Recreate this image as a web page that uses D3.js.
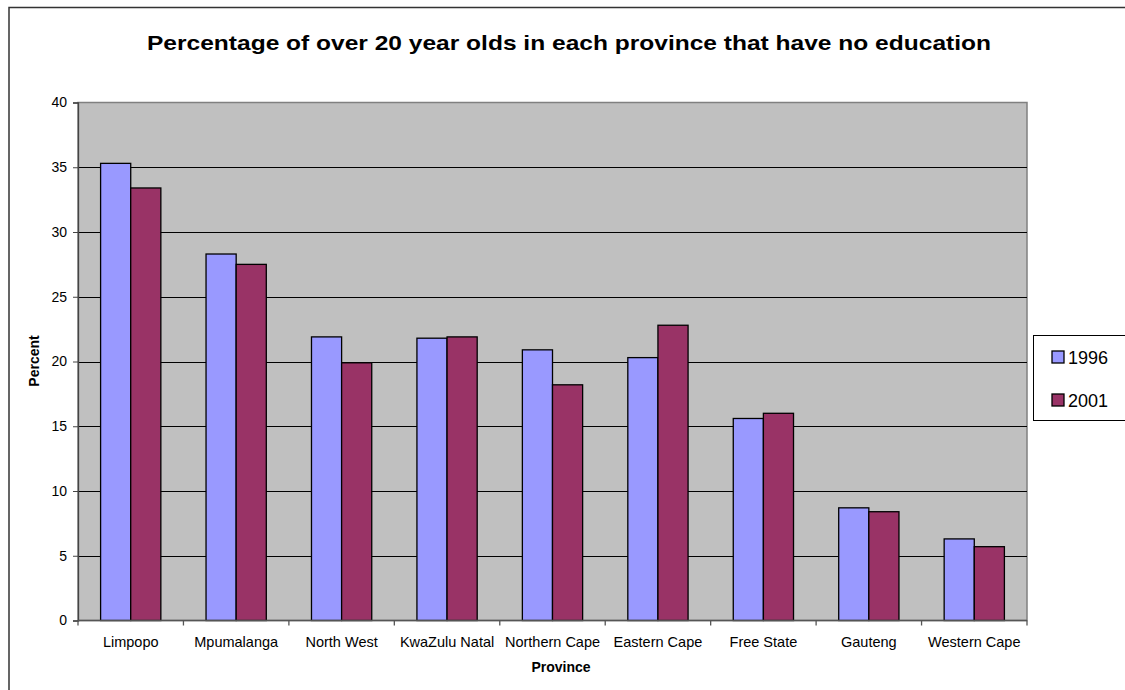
<!DOCTYPE html>
<html>
<head>
<meta charset="utf-8">
<script src="https://cdn.jsdelivr.net/npm/d3@7"></script>
<style>
  html, body { margin: 0; padding: 0; background: #fff; }
  svg { display: block; font-family: Arial, "Liberation Sans", sans-serif; }
</style>
</head>
<body>
<svg id="chart" width="1125" height="690"></svg>
<script>
// Provinces, ordered as shown on the category axis
const provinces = ["Limpopo", "Mpumalanga", "North West", "KwaZulu Natal", "Northern Cape",
                   "Eastern Cape", "Free State", "Gauteng", "Western Cape"];
// Share of over-20s with no schooling, by census year (%)
const years = ["1996", "2001"];
const values1996 = [35.3, 28.3, 21.9, 21.8, 20.9, 20.3, 15.6, 8.7, 6.3];
const values2001 = [33.4, 27.5, 19.9, 21.9, 18.2, 22.8, 16.0, 8.4, 5.7];
const yTicks = [0, 5, 10, 15, 20, 25, 30, 35, 40];

const colors = { "1996": "#9999FF", "2001": "#993366" };

const svg = d3.select("#chart");
const plot = { left: 78, right: 1027, top: 102.5, bottom: 620.5 };

// Outer chart frame
svg.append("rect")
  .attr("x", 9).attr("y", 7.5)
  .attr("width", 1130).attr("height", 700)
  .attr("fill", "#fff").attr("stroke", "#333").attr("stroke-width", 1.5);

// Title
svg.append("text")
  .attr("x", 569).attr("y", 50)
  .attr("text-anchor", "middle")
  .attr("font-size", 21).attr("font-weight", "bold")
  .attr("textLength", 844).attr("lengthAdjust", "spacingAndGlyphs")
  .text("Percentage of over 20 year olds in each province that have no education");

const x = d3.scaleBand().domain(provinces).range([plot.left, plot.right]);
const y = d3.scaleLinear().domain([0, 40]).range([plot.bottom, plot.top]);
// Two bars per category with a 150% gap: band = 3.5 bar widths
const barW = x.bandwidth() / 3.5;
const xs = d3.scaleBand().domain(years).range([0, 2 * barW]);

// Plot area background
svg.append("rect")
  .attr("x", plot.left).attr("y", plot.top)
  .attr("width", plot.right - plot.left).attr("height", plot.bottom - plot.top)
  .attr("fill", "#C0C0C0").attr("stroke", "#808080").attr("stroke-width", 1.5);

// Horizontal gridlines
svg.append("g")
  .selectAll("line")
  .data(yTicks.filter(d => d > 0 && d < 40))
  .join("line")
  .attr("x1", plot.left).attr("x2", plot.right)
  .attr("y1", d => Math.round(y(d)) + 0.5).attr("y2", d => Math.round(y(d)) + 0.5)
  .attr("stroke", "#000").attr("stroke-width", 1.2);

// Bars
const series = years.map(yr => ({ year: yr, vals: yr === "1996" ? values1996 : values2001 }));
const groups = svg.append("g")
  .selectAll("g")
  .data(provinces)
  .join("g")
  .attr("transform", d => `translate(${x(d) + (x.bandwidth() - 2 * barW) / 2},0)`);

groups.selectAll("rect")
  .data((d, i) => series.map(s => ({ year: s.year, value: s.vals[i] })))
  .join("rect")
  .attr("x", d => xs(d.year))
  .attr("y", d => y(d.value))
  .attr("width", xs.bandwidth())
  .attr("height", d => y(0) - y(d.value))
  .attr("fill", d => colors[d.year])
  .attr("stroke", "#000").attr("stroke-width", 1.3);

// Y axis
const yAxis = d3.axisLeft(y).tickValues(yTicks).tickSize(5).tickPadding(6).tickFormat(d3.format("d"));
const gy = svg.append("g").attr("transform", `translate(${plot.left},0)`).call(yAxis);
gy.select(".domain").attr("stroke", "#444").attr("stroke-width", 1.3);
gy.selectAll(".tick line").attr("stroke", "#444");
gy.selectAll(".tick text").attr("font-size", 14).attr("fill", "#000")
  .attr("font-family", "Arial, 'Liberation Sans', sans-serif");

// X axis: ticks sit on category boundaries
const gx = svg.append("g").attr("transform", `translate(0,${plot.bottom})`);
gx.append("line")
  .attr("x1", plot.left).attr("x2", plot.right)
  .attr("stroke", "#555").attr("stroke-width", 1.3);
gx.selectAll("line.tk")
  .data(d3.range(provinces.length + 1))
  .join("line").attr("class", "tk")
  .attr("x1", i => plot.left + i * x.step()).attr("x2", i => plot.left + i * x.step())
  .attr("y1", 0).attr("y2", 5)
  .attr("stroke", "#555").attr("stroke-width", 1.3);
gx.selectAll("text")
  .data(provinces)
  .join("text")
  .attr("x", d => x(d) + x.bandwidth() / 2)
  .attr("y", 26.5)
  .attr("text-anchor", "middle")
  .attr("font-size", 14.5)
  .text(d => d);

// Axis titles
svg.append("text")
  .attr("transform", "translate(38.5,361) rotate(-90)")
  .attr("text-anchor", "middle")
  .attr("font-size", 14).attr("font-weight", "bold")
  .text("Percent");

svg.append("text")
  .attr("x", 561).attr("y", 672)
  .attr("text-anchor", "middle")
  .attr("font-size", 14).attr("font-weight", "bold")
  .text("Province");

// Legend
const legend = svg.append("g");
legend.append("rect")
  .attr("x", 1033.5).attr("y", 335.5)
  .attr("width", 110).attr("height", 85)
  .attr("fill", "#fff").attr("stroke", "#000").attr("stroke-width", 1);
const items = legend.selectAll("g")
  .data(years)
  .join("g")
  .attr("transform", (d, i) => `translate(1052,${351 + i * 43})`);
items.append("rect")
  .attr("width", 12).attr("height", 12)
  .attr("fill", d => colors[d]).attr("stroke", "#000").attr("stroke-width", 1.3);
items.append("text")
  .attr("x", 16).attr("y", 13)
  .attr("font-size", 18)
  .text(d => d);
</script>
</body>
</html>
